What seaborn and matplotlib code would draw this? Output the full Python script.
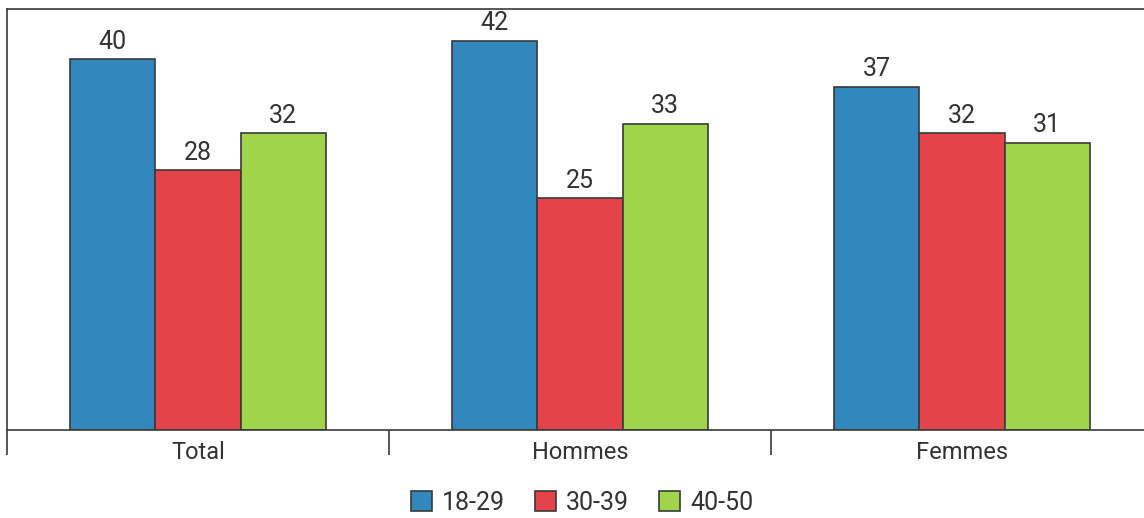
import matplotlib
matplotlib.use("Agg")
import matplotlib.pyplot as plt
import seaborn as sns
import pandas as pd
import numpy as np

# Share by group and age band
groups = ["Total", "Hommes", "Femmes"]
age_bands = ["18-29", "30-39", "40-50"]
values_18_29 = [40, 42, 37]
values_30_39 = [28, 25, 32]
values_40_50 = [32, 33, 31]
colors = ["#3288bd", "#e4434a", "#a0d44a"]

df = pd.DataFrame({
    "groupe": groups * 3,
    "age": [age_bands[0]] * 3 + [age_bands[1]] * 3 + [age_bands[2]] * 3,
    "valeur": values_18_29 + values_30_39 + values_40_50,
})

sns.set_theme(style="white")
plt.rcParams["font.family"] = ["Roboto", "DejaVu Sans"]
text_color = "#333333"
line_color = "#3a3a3a"

W, H = 1144, 518
fig = plt.figure(figsize=(W / 100, H / 100), dpi=100)
ax = fig.add_axes([7 / W, (H - 430) / H, 1146 / W, 421 / H])

sns.barplot(
    data=df, x="groupe", y="valeur", hue="age",
    order=groups, hue_order=age_bands, palette=colors, saturation=1,
    width=0.67, gap=0, edgecolor=line_color, linewidth=1.2,
    errorbar=None, ax=ax,
)

for cont in ax.containers:
    ax.bar_label(cont, labels=[f"{v:.0f}" for v in cont.datavalues],
                 padding=4, fontsize=18, color=text_color)

ax.set_xlim(-0.5, 2.5)
ax.set_ylim(0, 45.4)
ax.set_xlabel("")
ax.set_ylabel("")
ax.set_yticks([])

# category separators as minor ticks, labels centred without marks
ax.set_xticks(np.arange(-0.5, 3.0, 1.0), minor=True)
ax.tick_params(axis="x", which="major", length=0, pad=8,
               labelsize=17, labelcolor=text_color)
ax.tick_params(axis="x", which="minor", length=18, width=1.2,
               color=line_color, direction="out", bottom=True)

for side in ["left", "top", "bottom"]:
    ax.spines[side].set_visible(True)
    ax.spines[side].set_color(line_color)
    ax.spines[side].set_linewidth(1.2)
ax.spines["right"].set_visible(False)

handles, labels = ax.get_legend_handles_labels()
ax.get_legend().remove()
leg = fig.legend(
    handles, labels, loc="center", bbox_to_anchor=(582 / W, 1 - 503 / H),
    ncol=3, frameon=False, fontsize=18, handlelength=0.85, handleheight=0.85,
    handletextpad=0.4, columnspacing=1.2,
)
for t in leg.get_texts():
    t.set_color(text_color)

fig.savefig("out.png", dpi=100)
